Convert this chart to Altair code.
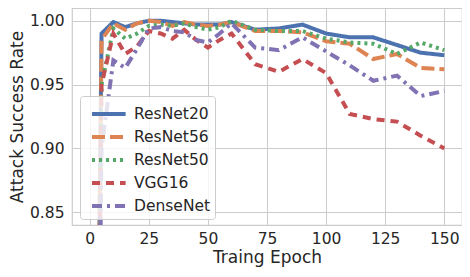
import altair as alt
import pandas as pd

epochs = [0, 5, 10, 15, 20, 25, 30, 35, 40, 45, 50, 55, 60, 70, 80, 90, 100, 110, 120, 130, 140, 150]

resnet20 = [0.10, 0.990, 0.999, 0.995, 0.998, 1.000, 1.000, 0.999, 0.998, 0.997, 0.997, 0.997, 0.999,
            0.993, 0.994, 0.997, 0.990, 0.987, 0.987, 0.981, 0.975, 0.973]
resnet56 = [0.10, 0.985, 0.998, 0.993, 0.998, 1.000, 0.999, 0.996, 0.999, 0.997, 0.996, 0.997, 0.999,
            0.992, 0.992, 0.991, 0.984, 0.982, 0.970, 0.974, 0.963, 0.962]
resnet50 = [0.10, 0.950, 0.994, 0.986, 0.990, 0.996, 0.997, 0.996, 0.998, 0.995, 0.993, 0.995, 1.000,
            0.993, 0.992, 0.992, 0.986, 0.983, 0.982, 0.974, 0.983, 0.977]
vgg16 = [0.10, 0.950, 0.990, 0.974, 0.980, 0.992, 0.990, 0.986, 0.993, 0.985, 0.979, 0.985, 0.990,
         0.966, 0.960, 0.970, 0.959, 0.927, 0.923, 0.921, 0.910, 0.900]
densenet = [0.10, 0.900, 0.969, 0.963, 0.978, 0.994, 0.995, 0.992, 0.991, 0.985, 0.983, 0.990, 0.998,
            0.979, 0.977, 0.987, 0.976, 0.965, 0.953, 0.957, 0.941, 0.945]

names = ["ResNet20", "ResNet56", "ResNet50", "VGG16", "DenseNet"]
series = [resnet20, resnet56, resnet50, vgg16, densenet]
colors = ["#4C72B0", "#DD8452", "#55A868", "#C44E52", "#8172B3"]
dashes = [[1, 0], [13, 5], [3, 4], [8, 6], [10, 5, 3, 5]]

rows = []
for n, vals in zip(names, series):
    for e, v in zip(epochs, vals):
        rows.append({"model": n, "epoch": e, "rate": v})
df = pd.DataFrame(rows)

font = "DejaVu Sans"
txt = "#262626"

chart = alt.Chart(df).mark_line(strokeWidth=4, clip=True).encode(
    x=alt.X("epoch:Q", scale=alt.Scale(domain=[-7.5, 157.5], nice=False, zero=False),
            axis=alt.Axis(values=[0, 25, 50, 75, 100, 125, 150], title="Traing Epoch",
                          labelPadding=6, titlePadding=3)),
    y=alt.Y("rate:Q", scale=alt.Scale(domain=[0.84, 1.01], nice=False, zero=False),
            axis=alt.Axis(values=[0.85, 0.90, 0.95, 1.00], format=".2f", title="Attack Success Rate",
                          labelPadding=8, titlePadding=3)),
    color=alt.Color("model:N", scale=alt.Scale(domain=names, range=colors), title=None,
                    legend=alt.Legend(orient="none", legendX=8, legendY=88)),
    strokeDash=alt.StrokeDash("model:N", scale=alt.Scale(domain=names, range=dashes), title=None),
    order=alt.Order("epoch:Q"),
).properties(
    width=390, height=217,
    autosize=alt.AutoSizeParams(type="none"),
    padding={"left": 64, "top": 0, "right": 0, "bottom": 44},
).configure_view(
    stroke="#cccccc", strokeWidth=1.2
).configure_axis(
    grid=True, gridColor="#cccccc", gridWidth=1, domain=False, ticks=False,
    labelFont=font, labelFontSize=15.5, labelColor=txt,
    titleFont=font, titleFontSize=17, titleColor=txt, titleFontWeight="normal",
).configure_legend(
    labelFont=font, labelFontSize=15.5, labelColor=txt,
    symbolType="M-1,0L1.8,0", symbolSize=576, symbolStrokeWidth=4, symbolOffset=6,
    fillColor="rgba(255,255,255,0.8)", strokeColor="#cccccc", cornerRadius=3,
    padding=4, labelOffset=16, rowPadding=-1.5, labelLimit=200,
)

chart.save("out.html", embed_options={"renderer": "svg", "actions": False})
